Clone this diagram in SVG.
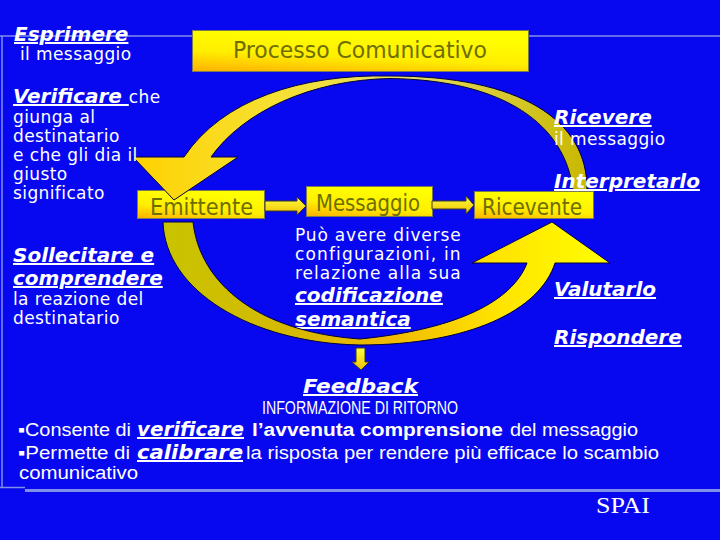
<svg xmlns="http://www.w3.org/2000/svg" width="720" height="540" viewBox="0 0 720 540">
<defs>
<linearGradient id="boxg" x1="0" y1="1" x2="0.35" y2="0">
<stop offset="0" stop-color="#FFB000"/>
<stop offset="0.45" stop-color="#FFEE00"/>
<stop offset="1" stop-color="#FFFF00"/>
</linearGradient>
<linearGradient id="topg" gradientUnits="userSpaceOnUse" x1="133" y1="0" x2="590" y2="0">
<stop offset="0" stop-color="#FFD200"/>
<stop offset="0.3" stop-color="#F6E030"/>
<stop offset="0.6" stop-color="#E6DC60"/>
<stop offset="1" stop-color="#C8B800"/>
</linearGradient>
<linearGradient id="botg" gradientUnits="userSpaceOnUse" x1="160" y1="0" x2="612" y2="0">
<stop offset="0" stop-color="#C8C400"/>
<stop offset="0.3" stop-color="#D6B800"/>
<stop offset="0.5" stop-color="#F0B800"/>
<stop offset="0.75" stop-color="#FFE400"/>
<stop offset="1" stop-color="#FFFF00"/>
</linearGradient>
<linearGradient id="arrg" x1="0" y1="0" x2="0" y2="1">
<stop offset="0" stop-color="#FFFF40"/>
<stop offset="1" stop-color="#F0C000"/>
</linearGradient>
</defs>
<style>
.w{fill:#fff;font-family:"DejaVu Sans",Verdana,sans-serif;font-size:17px;letter-spacing:0.4px}
.k{font-weight:bold;font-style:italic;text-decoration:underline;font-size:20px;letter-spacing:0}
.box{fill:url(#boxg);stroke:#7a7a55;stroke-width:1}
.lbl{fill:#6E6E00;font-family:"DejaVu Sans","Comic Sans MS",sans-serif;font-size:23px}
.arc{stroke:#000040;stroke-width:1;stroke-linejoin:round}
.blk{fill:url(#arrg);stroke:#3a3a20;stroke-width:1}
.frame{stroke:#7F8FE8;fill:none}
.n{fill:#fff;font-family:"Liberation Sans",Arial,sans-serif;font-size:18px}
</style>
<rect x="0" y="0" width="720" height="540" fill="#0808F0"/>
<g id="frame">
<line class="frame" x1="0" y1="36" x2="192" y2="36" stroke-width="1.5"/>
<line class="frame" x1="529" y1="36" x2="720" y2="36" stroke-width="1.5"/>
<line class="frame" x1="2" y1="36" x2="2" y2="488" stroke-width="1.5"/>
<line class="frame" x1="0" y1="487.5" x2="25" y2="487.5" stroke-width="1.5"/>
<line class="frame" x1="25" y1="490.5" x2="720" y2="490.5" stroke-width="3" stroke="#6F8AE0"/>
</g>
<g id="title">
<rect class="box" x="192.5" y="30.5" width="336" height="41"/>
<text class="lbl" x="233" y="58" font-size="25" textLength="254" lengthAdjust="spacingAndGlyphs">Processo Comunicativo</text>
</g>
<g id="emittente">
<rect class="box" x="137.5" y="190.5" width="127" height="28"/>
<text class="lbl" x="150" y="215" textLength="103" lengthAdjust="spacingAndGlyphs">Emittente</text>
</g>
<g id="messaggio">
<rect class="box" x="306.5" y="186.5" width="126" height="30"/>
<text class="lbl" x="316" y="211" font-size="22" textLength="104" lengthAdjust="spacingAndGlyphs">Messaggio</text>
<text class="w" x="295" y="241" textLength="166" lengthAdjust="spacing">Può avere diverse</text>
<text class="w" x="295" y="260" textLength="166" lengthAdjust="spacing">configurazioni, in</text>
<text class="w" x="295" y="279" textLength="166" lengthAdjust="spacing">relazione alla sua</text>
<text class="w k" x="295" y="302">codificazione</text>
<text class="w k" x="295" y="326">semantica</text>
</g>
<g id="ricevente">
<rect class="box" x="474.5" y="191.5" width="119" height="27"/>
<text class="lbl" x="482" y="215" font-size="22" textLength="100" lengthAdjust="spacingAndGlyphs">Ricevente</text>
</g>
<g id="connectors">
<path class="arc" fill="url(#topg)" d="M587,190 C588,120 520,76 390,76 C300,74 222,100 184,157 L133,157 L174,200 L238,157 L211,157 C243,112 310,80 390,78.5 C505,80 565,125 573,190 Z"/>
<path class="arc" fill="url(#botg)" d="M163,222 C165,290 250,343 360,345 C470,345 540,310 555,263 L610,263 L552,222 L472,263 L527,263 C515,295 470,328 360,339 C260,332 200,285 193,222 Z"/>
<path class="blk" d="M265,201 L297,201 L297,197 L306,206 L297,215 L297,211 L265,211 Z"/>
<path class="blk" d="M432,201 L466,201 L466,196 L474,205 L466,214 L466,209 L432,209 Z"/>
<path class="blk" d="M356,348 L365,348 L365,362 L369,362 L361,370 L352,362 L356,362 Z"/>
</g>
<g id="emittente-azioni">
<text class="w k" x="14" y="41">Esprimere</text>
<text class="w" x="20" y="60">il messaggio</text>
<text class="w" x="13" y="103"><tspan class="k">Verificare </tspan>che</text>
<text class="w" x="13" y="123">giunga al</text>
<text class="w" x="13" y="142">destinatario</text>
<text class="w" x="13" y="161">e che gli dia il</text>
<text class="w" x="13" y="180">giusto</text>
<text class="w" x="13" y="199">significato</text>
<text class="w k" x="13" y="262">Sollecitare e</text>
<text class="w k" x="13" y="285">comprendere</text>
<text class="w" x="13" y="305">la reazione del</text>
<text class="w" x="13" y="324">destinatario</text>
</g>
<g id="ricevente-azioni">
<text class="w k" x="554" y="124">Ricevere</text>
<text class="w" x="554" y="145">il messaggio</text>
<text class="w k" x="554" y="188">Interpretarlo</text>
<text class="w k" x="554" y="296">Valutarlo</text>
<text class="w k" x="554" y="344">Rispondere</text>
</g>
<g id="feedback">
<text class="w k" x="303" y="393" font-size="21" textLength="115" lengthAdjust="spacingAndGlyphs">Feedback</text>
<text class="n" x="262" y="414" font-size="12" textLength="196" lengthAdjust="spacingAndGlyphs">INFORMAZIONE DI RITORNO</text>
<text class="n" x="18" y="436" textLength="113" lengthAdjust="spacingAndGlyphs">▪Consente di</text>
<text class="w k" x="137" y="436" textLength="107" lengthAdjust="spacingAndGlyphs">verificare</text>
<text class="n" x="252" y="436" font-weight="bold" textLength="251" lengthAdjust="spacingAndGlyphs">l’avvenuta comprensione</text>
<text class="n" x="510" y="436" textLength="128" lengthAdjust="spacingAndGlyphs">del messaggio</text>
<text class="n" x="18" y="459" textLength="112" lengthAdjust="spacingAndGlyphs">▪Permette di</text>
<text class="w k" x="137" y="459" textLength="106" lengthAdjust="spacingAndGlyphs">calibrare </text>
<text class="n" x="246" y="459" textLength="413" lengthAdjust="spacingAndGlyphs">la risposta per rendere più efficace lo scambio</text>
<text class="n" x="19" y="479" textLength="119" lengthAdjust="spacingAndGlyphs">comunicativo</text>
</g>
<text id="spai" x="596" y="513" fill="#fff" font-family="Liberation Serif,'Times New Roman',serif" font-size="24" textLength="54" lengthAdjust="spacingAndGlyphs">SPAI</text>
</svg>
